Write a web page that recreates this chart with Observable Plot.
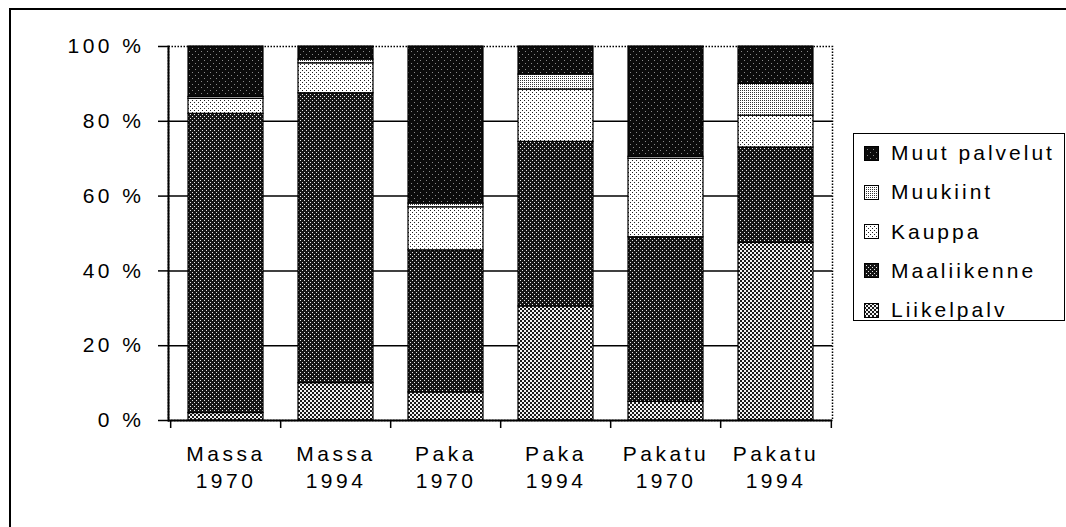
<!DOCTYPE html>
<html>
<head>
<meta charset="utf-8">
<script src="https://cdn.jsdelivr.net/npm/d3@7"></script>
<script src="https://cdn.jsdelivr.net/npm/@observablehq/plot@0.6"></script>
<style>
  html, body { margin: 0; padding: 0; background: #fff; overflow: hidden; }
  #wrap { position: relative; width: 1066px; height: 527px; overflow: hidden; font-family: "Liberation Sans", Arial, Helvetica, sans-serif; }
  #framesvg { position: absolute; left: 0; top: 0; }
  #chart { position: absolute; left: 0; top: 0; }
  #chart svg text { letter-spacing: 3.5px; }
  #legend { position: absolute; left: 853px; top: 133px; width: 212px; height: 188px; border: 1.5px solid #000; box-sizing: border-box; background: #fff; }
  .item { position: absolute; left: 10px; display: flex; align-items: center; font-size: 21px; letter-spacing: 3px; color: #000; }
  .item svg { margin-right: 12px; }
</style>
</head>
<body>
<svg width="0" height="0" style="position:absolute">
  <defs>
    <pattern id="p-muut" width="6" height="6" patternUnits="userSpaceOnUse">
      <rect width="6" height="6" fill="#0b0b0b"/>
      <rect x="0" y="0" width="1" height="1" fill="#8a8a8a"/>
      <rect x="3" y="3" width="1" height="1" fill="#8a8a8a"/>
    </pattern>
    <pattern id="p-muuk" width="2" height="2" patternUnits="userSpaceOnUse">
      <rect width="2" height="2" fill="#ffffff"/>
      <rect x="0" y="0" width="1" height="1" fill="#333"/>
    </pattern>
    <pattern id="p-kauppa" width="4" height="4" patternUnits="userSpaceOnUse">
      <rect width="4" height="4" fill="#ffffff"/>
      <rect x="0" y="0" width="1" height="1" fill="#222"/>
      <rect x="2" y="2" width="1" height="1" fill="#222"/>
    </pattern>
    <pattern id="p-maal" width="4" height="4" patternUnits="userSpaceOnUse">
      <rect width="4" height="4" fill="#151515"/>
      <rect x="0" y="0" width="1" height="1" fill="#e8e8e8"/>
      <rect x="2" y="2" width="1" height="1" fill="#e8e8e8"/>
    </pattern>
    <pattern id="p-liik" width="4" height="4" patternUnits="userSpaceOnUse">
      <rect width="4" height="4" fill="#f2f2f2"/>
      <rect x="0" y="0" width="2" height="2" fill="#1a1a1a"/>
      <rect x="2" y="2" width="2" height="2" fill="#1a1a1a"/>
    </pattern>
  </defs>
</svg>
<div id="wrap">
  <svg id="framesvg" width="1066" height="527"><path d="M10,527V9H1066" fill="none" stroke="#000" stroke-width="2"/></svg>
  <div id="chart"></div>
  <div id="legend"></div>
</div>
<script>
// ---- data ----
const groups = ["Massa", "Massa", "Paka", "Paka", "Pakatu", "Pakatu"];
const years = ["1970", "1994", "1970", "1994", "1970", "1994"];
const seriesNames = ["Liikelpalv", "Maaliikenne", "Kauppa", "Muukiint", "Muut palvelut"];
const liikelpalv   = [2, 10, 7.5, 30.5, 5, 47.5];
const maaliikenne  = [80, 77.5, 38, 44, 44, 25.5];
const kauppa       = [4, 8, 11.5, 14, 21, 8.5];
const muukiint     = [0.5, 1, 1, 4, 0.5, 8.5];
const muutPalvelut = [13.5, 3.5, 42, 7.5, 29.5, 10];
const yTicks = [0, 20, 40, 60, 80, 100];
const gridTicks = [20, 40, 60, 80];
const legendOrder = ["Muut palvelut", "Muukiint", "Kauppa", "Maaliikenne", "Liikelpalv"];

const patterns = {
  "Liikelpalv": "url(#p-liik)",
  "Maaliikenne": "url(#p-maal)",
  "Kauppa": "url(#p-kauppa)",
  "Muukiint": "url(#p-muuk)",
  "Muut palvelut": "url(#p-muut)"
};

const categories = groups.map((g, i) => g + "\n" + years[i]);
const seriesValues = [liikelpalv, maaliikenne, kauppa, muukiint, muutPalvelut];
const data = [];
seriesNames.forEach((s, si) => {
  categories.forEach((c, ci) => data.push({cat: c, series: s, value: seriesValues[si][ci]}));
});

// ---- layout ----
const W = 1066, H = 527;
const mL = 168, mR = 234, mT = 46, mB = 107;
const step = (W - mL - mR) / categories.length;

const chart = Plot.plot({
  width: W,
  height: H,
  marginLeft: mL,
  marginRight: mR,
  marginTop: mT,
  marginBottom: mB,
  style: {fontFamily: "'Liberation Sans', Arial, Helvetica, sans-serif", fontSize: "21px", color: "#000", background: "transparent"},
  x: {domain: categories, paddingInner: 0.32, paddingOuter: 0.16, label: null, axis: null},
  y: {domain: [0, 100], label: null, axis: null},
  color: {type: "ordinal", domain: seriesNames, range: seriesNames.map(s => patterns[s])},
  marks: [
    Plot.gridY(gridTicks, {stroke: "#000", strokeOpacity: 1, strokeWidth: 1.5}),
    Plot.frame({stroke: "#000", strokeWidth: 1.5, strokeDasharray: "1.5 1.5"}),
    Plot.barY(data, Plot.stackY({x: "cat", y: "value", fill: "series", stroke: "#000", strokeWidth: 1.2})),
    Plot.ruleY([0], {stroke: "#000", strokeWidth: 2}),
    Plot.frame({anchor: "left", stroke: "#000", strokeWidth: 2}),
    Plot.axisY(yTicks, {tickSize: 10, tickPadding: 14, tickFormat: d => d + " %", stroke: "#000", strokeWidth: 1.5, fill: "#000", label: null}),
    Plot.axisX({tickSize: 8, tickFormat: () => "", dx: -step / 2, stroke: "#000", strokeWidth: 1.5, label: null}),
    Plot.axisX([categories[categories.length - 1]], {tickSize: 8, tickFormat: () => "", dx: step / 2, stroke: "#000", strokeWidth: 1.5, label: null}),
    Plot.text(categories, {x: d => d, text: d => d, frameAnchor: "bottom", lineAnchor: "top", dy: 21, lineHeight: 1.3, fill: "#000", fontSize: 21})
  ]
});
document.getElementById("chart").appendChild(chart);

// ---- legend ----
const legend = document.getElementById("legend");
legendOrder.forEach((s, i) => {
  const item = document.createElement("div");
  item.className = "item";
  item.style.top = (7 + i * 39.3) + "px";
  item.innerHTML = `<svg width="15" height="15"><rect x="0.5" y="0.5" width="14" height="14" fill="${patterns[s]}" stroke="#000" stroke-width="1"/></svg><span>${s}</span>`;
  legend.appendChild(item);
});
</script>
</body>
</html>
